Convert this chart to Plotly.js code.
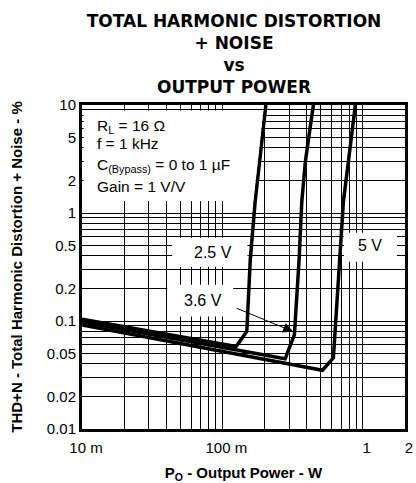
<!DOCTYPE html>
<html><head><meta charset="utf-8">
<script src="https://cdn.plot.ly/plotly-3.0.1.min.js"></script>
<style>html,body{margin:0;padding:0;background:#fff;} #chart{width:416px;height:483px;}</style>
</head><body><div id="chart"></div>
<script>
// Output power (W) and THD+N (%), one pair of arrays per supply voltage
const power25 = [0.01, 0.1253, 0.1493, 0.158, 0.1712, 0.1837, 0.204];
const thd25   = [0.1041, 0.058, 0.0803, 0.369, 1.277, 2.99, 10];
const power36 = [0.01, 0.280, 0.326, 0.352, 0.368, 0.390, 0.445];
const thd36   = [0.0977, 0.0447, 0.0749, 0.369, 1.277, 2.99, 10];
const power50 = [0.01, 0.516, 0.618, 0.682, 0.728, 0.790, 0.886];
const thd50   = [0.0917, 0.0350, 0.0456, 0.369, 1.277, 2.99, 10];

const curveLabels = ['2.5 V', '3.6 V', '5 V'];

const xTickVals = [0.01, 0.1, 1, 2];
const xTickText = ['10 m', '100 m', '1', '2'];
const xMinorVals = [0.02,0.03,0.04,0.05,0.06,0.07,0.08,0.09,0.2,0.3,0.4,0.5,0.6,0.7,0.8,0.9];
const yTickVals = [0.01, 0.02, 0.05, 0.1, 0.2, 0.5, 1, 2, 5, 10];
const yTickText = ['0.01', '0.02', '0.05', '0.1', '0.2', '0.5', '1', '2', '5', '10'];
const yMinorVals = [0.03,0.04,0.06,0.07,0.08,0.09,0.3,0.4,0.6,0.7,0.8,0.9,3,4,6,7,8,9];

const conditions = ['R<sub>L</sub> = 16 Ω', 'f = 1 kHz', 'C<sub>(Bypass)</sub> = 0 to 1 µF', 'Gain = 1 V/V'];
const conditionY = [0.935, 0.880, 0.812, 0.750];

// arrow target on the 3.6 V curve (W, %)
const arrowTarget = [0.319, 0.0798];

const lineStyle = {color: '#000', width: 3.5};
const traces = [
  {x: power25, y: thd25, name: curveLabels[0]},
  {x: power36, y: thd36, name: curveLabels[1]},
  {x: power50, y: thd50, name: curveLabels[2]}
].map(t => Object.assign(t, {type: 'scatter', mode: 'lines', line: lineStyle, hoverinfo: 'skip'}));

const txtFont = {family: 'Liberation Sans, Arial, sans-serif', size: 15, color: '#000'};
const condFont = {family: 'Liberation Sans, Arial, sans-serif', size: 15.5, color: '#000'};
const lblFont = {family: 'Liberation Sans, Arial, sans-serif', size: 16, color: '#000'};
const boldFont = {family: 'Liberation Sans, Arial, sans-serif', size: 15, weight: 'bold', color: '#000'};

const annotations = conditions.map((t, i) => ({
  xref: 'paper', yref: 'paper', x: 0.039, y: conditionY[i], xanchor: 'left', yanchor: 'middle',
  text: t, showarrow: false, font: condFont
}));
const label = (x, y, t) => ({xref: 'paper', yref: 'paper', x, y, xanchor: 'center', yanchor: 'middle',
  text: t, showarrow: false, font: lblFont});
annotations.push(
  label(0.4046, 0.5455, curveLabels[0]),
  label(0.3737, 0.396, curveLabels[1]),
  label(0.893, 0.5655, curveLabels[2]),
  {xref: 'x', yref: 'y', x: Math.log10(arrowTarget[0]), y: Math.log10(arrowTarget[1]), ax: -58, ay: -24,
   text: '', showarrow: true, arrowhead: 2, arrowsize: 2, arrowwidth: 1, arrowcolor: '#000', standoff: 0}
);

// white patches that hide the grid behind the texts (paper coordinates)
const patch = (x0, x1, y0, y1) => ({type: 'rect', xref: 'paper', yref: 'paper', x0, x1, y0, y1,
  fillcolor: '#fff', line: {width: 0}, layer: 'above'});
const shapes = [
  {type: 'path', xref: 'paper', yref: 'paper', layer: 'above', fillcolor: '#fff', line: {width: 0},
   path: 'M 0.005 0.983 L 0.561 0.983 L 0.544 0.825 L 0.530 0.704 L 0.005 0.704 Z'},
  patch(0.279, 0.512, 0.501, 0.59),
  patch(0.264, 0.468, 0.347, 0.445),
  patch(0.811, 0.975, 0.516, 0.606)
];

const layout = {
  width: 416, height: 483,
  margin: {l: 82, r: 11, t: 105, b: 53.5},
  paper_bgcolor: '#fff', plot_bgcolor: '#fff',
  showlegend: false,
  title: {
    text: 'TOTAL HARMONIC DISTORTION<br>+ NOISE<br>vs<br>OUTPUT POWER',
    font: {family: 'DejaVu Sans, sans-serif', size: 17, weight: 'bold', color: '#000'},
    xref: 'container', x: 0.5625, xanchor: 'center',
    yref: 'container', y: 0.944, yanchor: 'top'
  },
  xaxis: {
    type: 'log', range: [-2, Math.log10(2)],
    tickmode: 'array', tickvals: xTickVals, ticktext: xTickText,
    minor: {tickmode: 'array', tickvals: xMinorVals, showgrid: true, gridcolor: '#000', gridwidth: 1, ticks: ''},
    showgrid: true, gridcolor: '#000', gridwidth: 1, zeroline: false,
    showline: true, linecolor: '#000', linewidth: 3, mirror: true,
    ticks: '', tickfont: txtFont, ticklabelshift: 4, ticklabelstandoff: 3,
    title: {text: 'P<sub>O</sub> - Output Power - W', font: boldFont, standoff: 19}
  },
  yaxis: {
    type: 'log', range: [-2, 1],
    tickmode: 'array', tickvals: yTickVals, ticktext: yTickText,
    minor: {tickmode: 'array', tickvals: yMinorVals, showgrid: true, gridcolor: '#000', gridwidth: 1, ticks: ''},
    showgrid: true, gridcolor: '#000', gridwidth: 1, zeroline: false,
    showline: true, linecolor: '#000', linewidth: 3, mirror: true,
    ticks: '', tickfont: txtFont,
    title: {text: 'THD+N - Total Harmonic Distortion + Noise - %', font: boldFont, standoff: 21}
  },
  annotations, shapes
};

Plotly.newPlot('chart', traces, layout, {staticPlot: true, displayModeBar: false});
</script></body></html>
